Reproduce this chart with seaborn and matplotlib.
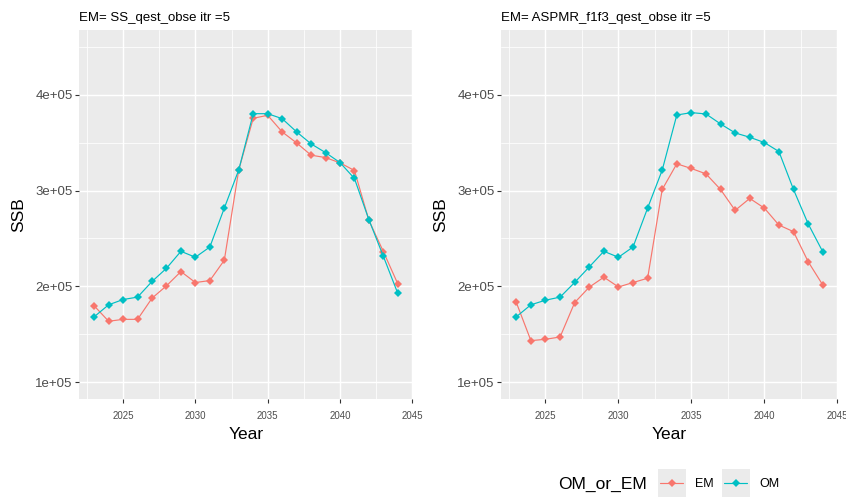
import matplotlib
matplotlib.use("Agg")
import matplotlib.pyplot as plt
from matplotlib.lines import Line2D
from matplotlib.patches import Rectangle
import numpy as np
import pandas as pd
import seaborn as sns

# ---- data -------------------------------------------------------------
years = list(range(2023, 2045))

ss_om = [1.683e5, 1.808e5, 1.863e5, 1.888e5, 2.051e5, 2.189e5, 2.366e5, 2.304e5,
         2.411e5, 2.817e5, 3.216e5, 3.802e5, 3.802e5, 3.750e5, 3.612e5, 3.487e5,
         3.396e5, 3.292e5, 3.126e5, 2.696e5, 2.314e5, 1.926e5]
ss_em = [1.797e5, 1.636e5, 1.656e5, 1.656e5, 1.877e5, 2.006e5, 2.155e5, 2.040e5,
         2.061e5, 2.273e5, 3.216e5, 3.754e5, 3.785e5, 3.612e5, 3.497e5, 3.369e5,
         3.344e5, 3.289e5, 3.209e5, 2.689e5, 2.363e5, 2.026e5]

aspm_om = [1.683e5, 1.808e5, 1.856e5, 1.888e5, 2.041e5, 2.203e5, 2.366e5, 2.304e5,
           2.411e5, 2.817e5, 3.213e5, 3.788e5, 3.813e5, 3.799e5, 3.695e5, 3.601e5,
           3.556e5, 3.501e5, 3.407e5, 3.011e5, 2.654e5, 2.363e5]
aspm_em = [1.832e5, 1.434e5, 1.448e5, 1.472e5, 1.831e5, 1.992e5, 2.096e5, 1.994e5,
           2.040e5, 2.085e5, 3.011e5, 3.279e5, 3.230e5, 3.174e5, 3.011e5, 2.793e5,
           2.918e5, 2.817e5, 2.640e5, 2.571e5, 2.259e5, 2.016e5]

panel_titles = ["EM= SS_qest_obse itr =5", "EM= ASPMR_f1f3_qest_obse itr =5"]
groups = ["EM", "OM"]
palette = {"EM": "#F8766D", "OM": "#00BFC4"}

y_ticks = [1e5, 2e5, 3e5, 4e5]
y_tick_labels = ["1e+05", "2e+05", "3e+05", "4e+05"]
x_ticks = [2025, 2030, 2035, 2040, 2045]
y_limits = (1e5, 4.5e5)


def long_frame(em, om):
    return pd.DataFrame({
        "Year": years * 2,
        "SSB": list(em) + list(om),
        "OM_or_EM": ["EM"] * len(years) + ["OM"] * len(years),
    })


frames = [long_frame(ss_em, ss_om), long_frame(aspm_em, aspm_om)]

# ---- style --------------------------------------------------------------
sns.set_theme(style="darkgrid")
plt.rcParams["font.family"] = ["Liberation Sans", "DejaVu Sans"]
plt.rcParams["axes.facecolor"] = "#EBEBEB"

W, H = 846, 497
fig = plt.figure(figsize=(W / 100, H / 100), dpi=100)
fig.patch.set_facecolor("white")

# panel boxes in pixels: (left, top, right, bottom)
boxes = [(79, 30, 413, 399), (501, 30, 838, 399)]
MS = 4.2
LW = 0.85


def expand(lo, hi, frac=0.05):
    d = (hi - lo) * frac
    return lo - d, hi + d


for frame, title, (l, t, r, b) in zip(frames, panel_titles, boxes):
    ax = fig.add_axes([l / W, (H - b) / H, (r - l) / W, (b - t) / H])
    sns.lineplot(data=frame, x="Year", y="SSB", hue="OM_or_EM",
                 hue_order=groups, palette=palette, marker="D",
                 markersize=MS, markeredgewidth=0, linewidth=LW,
                 legend=False, ax=ax)
    ax.set_xlim(*expand(min(years), max(years)))
    ax.set_ylim(*expand(*y_limits))
    ax.set_xticks(x_ticks)
    ax.set_xticklabels([str(v) for v in x_ticks])
    ax.set_yticks(y_ticks)
    ax.set_yticklabels(y_tick_labels)
    ax.set_xticks([v - 2.5 for v in x_ticks], minor=True)
    ax.set_yticks([v + 0.5e5 for v in y_ticks], minor=True)
    ax.grid(which="major", color="white", linewidth=1.05)
    ax.grid(which="minor", color="white", linewidth=0.55)
    ax.set_axisbelow(True)
    for s in ax.spines.values():
        s.set_visible(False)
    ax.tick_params(axis="both", which="major", length=3, width=0.8,
                   color="#333333", labelcolor="#4D4D4D", bottom=True, left=True)
    ax.tick_params(axis="x", which="major", labelsize=7, pad=5.5)
    ax.tick_params(axis="y", which="major", labelsize=9.5, pad=1.5)
    ax.tick_params(which="minor", length=0)
    ax.set_xlabel("Year", fontsize=12.5, color="black", labelpad=4.5)
    ax.set_ylabel("SSB", fontsize=12.5, color="black", labelpad=6.5)
    ax.set_title(title, loc="left", fontsize=9.5, color="black", pad=6.5)

# ---- shared legend at the bottom ----------------------------------------
fig.text(558 / W, 1 - 484 / H, "OM_or_EM", fontsize=12.5, va="center",
         ha="left", color="black")
handles = [Line2D([], [], color=palette[g], marker="D", markersize=MS,
                  markeredgewidth=0, linewidth=LW) for g in groups]
leg = fig.legend(handles, groups, loc="center left",
                 bbox_to_anchor=(660 / W, 1 - 484 / H), ncol=2, frameon=False,
                 fontsize=9, handlelength=1.85, handletextpad=0.95,
                 columnspacing=0.85, borderpad=0, borderaxespad=0)
for txt in leg.get_texts():
    txt.set_color("black")

fig.canvas.draw()
renderer = fig.canvas.get_renderer()
for hl in leg.legend_handles:
    bb = hl.get_window_extent(renderer)
    cx, cy = (bb.x0 + bb.x1) / 2, (bb.y0 + bb.y1) / 2
    side = 28
    rect = Rectangle(((cx - side / 2) / W, (cy - side / 2) / H), side / W, side / H,
                     transform=fig.transFigure, facecolor="#EBEBEB",
                     edgecolor="none", zorder=1)
    fig.patches.append(rect)

fig.savefig("out.png", dpi=100)
